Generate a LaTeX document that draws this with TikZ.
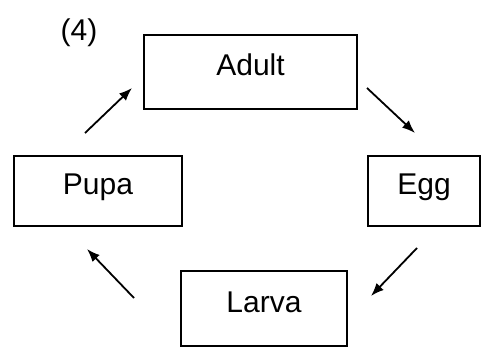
\documentclass[tikz,border=0pt]{standalone}
\usepackage{fontspec}
\setmainfont{Liberation Sans}
\usetikzlibrary{arrows.meta}

\begin{document}
\begin{tikzpicture}[x=1pt,y=-1pt,>={Latex[length=13pt,width=10pt]},line width=1.8pt,
  stage/.style={draw,line width=1.8pt,inner sep=0pt,font=\fontsize{30}{36}\selectfont,
    text height=22pt,text depth=14pt}]
\useasboundingbox (0,0) rectangle (482,347);
\node[font=\fontsize{30}{36}\selectfont] (num) at (79,33) {(4)};
\node[stage,minimum width=213pt,minimum height=74pt] (adult) at (250.5,72) {Adult};
\node[stage,minimum width=112pt,minimum height=70pt] (egg) at (424,191) {Egg};
\node[stage,minimum width=166pt,minimum height=75pt] (larva) at (264,308.5) {Larva};
\node[stage,minimum width=168pt,minimum height=70pt] (pupa) at (98,191) {Pupa};
\coordinate (ae1) at (367,88);
\coordinate (ae2) at (415,133);
\coordinate (el1) at (417,248);
\coordinate (el2) at (371,296);
\coordinate (lp1) at (134,298);
\coordinate (lp2) at (87,249);
\coordinate (pa1) at (85,133);
\coordinate (pa2) at (132,88);
\path[->] (ae1) edge (ae2);
\path[->] (el1) edge (el2);
\path[->] (lp1) edge (lp2);
\path[->] (pa1) edge (pa2);
\end{tikzpicture}
\end{document}
